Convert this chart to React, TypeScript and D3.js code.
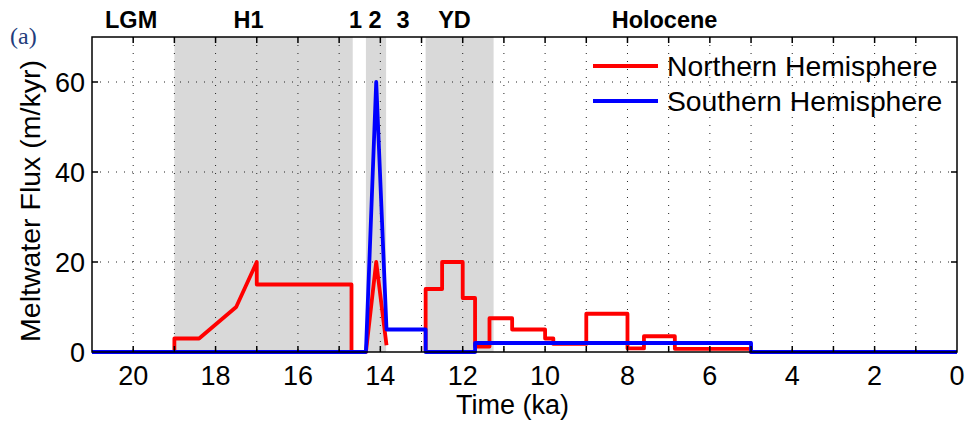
import React from "react";
import * as d3 from "d3";

// ---- data ----
const nhTime = [21, 19, 19, 18.4, 17.5, 17, 17, 14.7, 14.7, 14.35, 14.1, 13.85, NaN, 12.9, 12.9, 12.5, 12.5, 12.0, 12.0, 11.7, 11.7, 11.35, 11.35, 10.8, 10.8, 10.0, 10.0, 9.8, 9.8, 9.0, 9.0, 8.0, 8.0, 7.6, 7.6, 6.85, 6.85, 5.0, 5.0, 0];
const nhFlux = [0, 0, 3, 3, 10, 20, 15, 15, 0, 0, 20, 1.5, NaN, 0, 14, 14, 20, 20, 12, 12, 1.2, 1.2, 7.5, 7.5, 5, 5, 3, 3, 1.8, 1.8, 8.5, 8.5, 0.8, 0.8, 3.5, 3.5, 0.7, 0.7, 0, 0];
const shTime = [21, 14.35, 14.1, 13.85, 12.9, 12.9, 11.7, 11.7, 5.0, 5.0, 0];
const shFlux = [0, 0, 60, 5, 5, 0, 0, 2, 2, 0, 0];

const shadeStart = [19, 14.35, 12.9];
const shadeEnd = [14.67, 13.86, 11.25];

const periodNames = ["LGM", "H1", "1", "2", "3", "YD", "Holocene"];
const periodPos = [20.05, 17.2, 14.6, 14.13, 13.45, 12.2, 7.1];

const xTicks = d3.range(0, 22, 1);
const xLabels = [20, 18, 16, 14, 12, 10, 8, 6, 4, 2, 0];
const yTicks = [0, 20, 40, 60];

const seriesNames = ["Northern Hemisphere", "Southern Hemisphere"];
const seriesColors = ["#ff0000", "#0000ff"];

// ---- layout ----
const W = 966, H = 423;
const L = 92, R = 957, T = 37, B = 352;
const FONT = "'Liberation Sans', Arial, Helvetica, sans-serif";

export default function App() {
  const x = d3.scaleLinear().domain([21, 0]).range([L, R]);
  const y = d3.scaleLinear().domain([0, 70]).range([B, T]);

  const mk = (xs: number[], ys: number[]) =>
    d3.line<number>()
      .defined((i) => !isNaN(xs[i]) && !isNaN(ys[i]))
      .x((i) => x(xs[i]))
      .y((i) => y(ys[i]))(d3.range(xs.length)) || "";

  const nhPath = mk(nhTime, nhFlux);
  const shPath = mk(shTime, shFlux);

  return (
    <svg width={W} height={H} style={{ position: "absolute", left: 0, top: 0, background: "#fff" }}>
      <rect x={0} y={0} width={W} height={H} fill="#fff" />
      {/* shaded periods */}
      {shadeStart.map((s, i) => (
        <rect key={"sh" + i} x={x(s)} y={T} width={x(shadeEnd[i]) - x(s)} height={B - T} fill="#d9d9d9" />
      ))}
      {/* grid */}
      {xTicks.filter((t) => t > 0 && t < 21).map((t) => (
        <line key={"gx" + t} x1={x(t)} x2={x(t)} y1={T} y2={B} stroke="#222" strokeWidth={1} strokeDasharray="1,7" />
      ))}
      {yTicks.filter((t) => t > 0).map((t) => (
        <line key={"gy" + t} x1={L} x2={R} y1={y(t)} y2={y(t)} stroke="#222" strokeWidth={1} strokeDasharray="1,7" />
      ))}
      {/* series */}
      <path d={nhPath} fill="none" stroke={seriesColors[0]} strokeWidth={3.8} strokeLinejoin="round" />
      <path d={shPath} fill="none" stroke={seriesColors[1]} strokeWidth={3.8} strokeLinejoin="round" />
      {/* axes box */}
      <rect x={L} y={T} width={R - L} height={B - T} fill="none" stroke="#000" strokeWidth={1.5} />
      {xTicks.filter((t) => t > 0 && t < 21).map((t) => (
        <g key={"tx" + t}>
          <line x1={x(t)} x2={x(t)} y1={B} y2={B - 6} stroke="#000" strokeWidth={1.5} />
          <line x1={x(t)} x2={x(t)} y1={T} y2={T + 6} stroke="#000" strokeWidth={1.5} />
        </g>
      ))}
      {yTicks.filter((t) => t > 0).map((t) => (
        <g key={"ty" + t}>
          <line x1={L} x2={L + 6} y1={y(t)} y2={y(t)} stroke="#000" strokeWidth={1.5} />
          <line x1={R} x2={R - 6} y1={y(t)} y2={y(t)} stroke="#000" strokeWidth={1.5} />
        </g>
      ))}
      {/* tick labels */}
      {xLabels.map((t) => (
        <text key={"lx" + t} x={x(t)} y={385} textAnchor="middle" fontFamily={FONT} fontSize={27} fill="#000">{t}</text>
      ))}
      {yTicks.map((t) => (
        <text key={"ly" + t} x={L - 7} y={y(t) + 10} textAnchor="end" fontFamily={FONT} fontSize={27} fill="#000">{t}</text>
      ))}
      {/* axis labels */}
      <text x={(L + R) / 2 - 12} y={414} textAnchor="middle" fontFamily={FONT} fontSize={27} fill="#000">Time (ka)</text>
      <text transform={`translate(40,201) rotate(-90)`} textAnchor="middle" fontFamily={FONT} fontSize={28.5} fill="#000">Meltwater Flux (m/kyr)</text>
      {/* period labels */}
      {periodNames.map((n, i) => (
        <text key={"p" + n} x={x(periodPos[i])} y={28} textAnchor="middle" fontFamily={FONT} fontSize={23.5} fontWeight="bold" fill="#000">{n}</text>
      ))}
      <text x={10} y={44} fontFamily="'Liberation Serif', 'Times New Roman', serif" fontSize={24} fill="#233c7c">(a)</text>
      {/* legend */}
      {seriesNames.map((n, i) => (
        <g key={"lg" + i}>
          <line x1={593} x2={658} y1={66 + i * 35} y2={66 + i * 35} stroke={seriesColors[i]} strokeWidth={3.8} />
          <text x={667} y={76 + i * 35} fontFamily={FONT} fontSize={28.3} fill="#000">{n}</text>
        </g>
      ))}
    </svg>
  );
}
